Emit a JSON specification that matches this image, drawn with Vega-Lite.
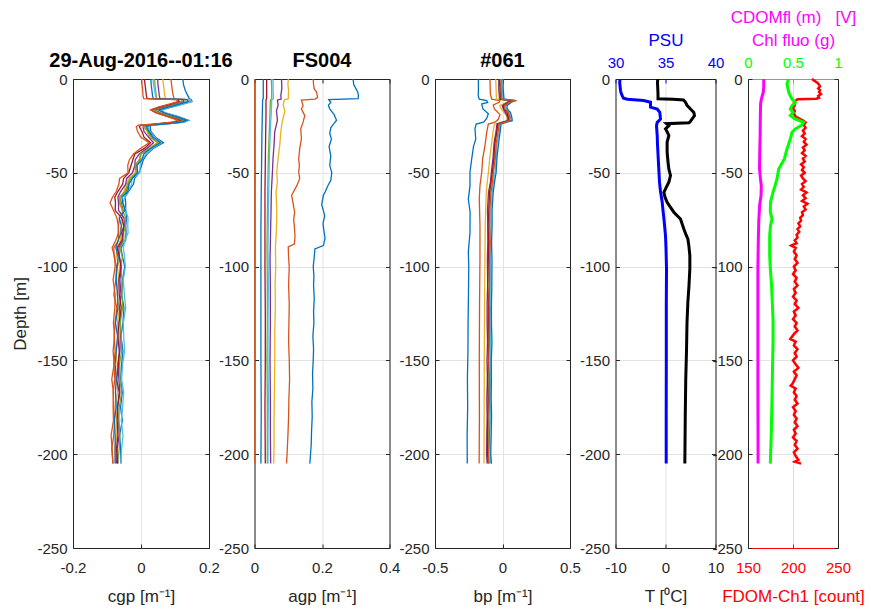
{
"$schema": "https://vega.github.io/schema/vega-lite/v6.json",
"padding": {"left": 11, "top": 8, "right": 5, "bottom": 5},
"background": "white",
"datasets": {
"cgp": [
{"s":1,"z":0,"v":0.123},{"s":1,"z":-3,"v":0.125},{"s":1,"z":-6,"v":0.13},{"s":1,"z":-9,"v":0.138},{"s":1,"z":-10.5,"v":0.142},{"s":1,"z":-11,"v":0.148},{"s":1,"z":-12,"v":0.15},{"s":1,"z":-13.5,"v":0.12},{"s":1,"z":-15,"v":0.09},{"s":1,"z":-16.5,"v":0.06},{"s":1,"z":-18,"v":0.07},{"s":1,"z":-20,"v":0.11},{"s":1,"z":-22,"v":0.14},{"s":1,"z":-23,"v":0.125},{"s":1,"z":-24,"v":0.07},{"s":1,"z":-24.6,"v":0.03},
{"s":1,"z":-25.5,"v":0.027},{"s":1,"z":-28,"v":0.029},{"s":1,"z":-31,"v":0.043},{"s":1,"z":-34,"v":0.066},{"s":1,"z":-37,"v":0.036},{"s":1,"z":-40,"v":0.018},{"s":1,"z":-43,"v":0.007},{"s":1,"z":-46,"v":0.002},{"s":1,"z":-50,"v":-0.006},{"s":1,"z":-53,"v":-0.019},{"s":1,"z":-56,"v":-0.022},{"s":1,"z":-60,"v":-0.037},{"s":1,"z":-63,"v":-0.047},{"s":1,"z":-66,"v":-0.045},{"s":1,"z":-70,"v":-0.045},
{"s":1,"z":-74,"v":-0.042},{"s":1,"z":-78,"v":-0.045},{"s":1,"z":-82,"v":-0.044},{"s":1,"z":-86,"v":-0.045},{"s":1,"z":-90,"v":-0.059},{"s":1,"z":-95,"v":-0.054},{"s":1,"z":-100,"v":-0.048},{"s":1,"z":-107,"v":-0.054},{"s":1,"z":-115,"v":-0.057},{"s":1,"z":-122,"v":-0.05},{"s":1,"z":-130,"v":-0.053},{"s":1,"z":-137,"v":-0.059},{"s":1,"z":-145,"v":-0.053},{"s":1,"z":-152,"v":-0.057},{"s":1,"z":-160,"v":-0.06},{"s":1,"z":-167,"v":-0.055},{"s":1,"z":-175,"v":-0.06},{"s":1,"z":-182,"v":-0.055},{"s":1,"z":-190,"v":-0.063},{"s":1,"z":-197,"v":-0.06},{"s":1,"z":-205,"v":-0.059},
{"s":2,"z":0,"v":0.088},{"s":2,"z":-3,"v":0.09},{"s":2,"z":-6,"v":0.092},{"s":2,"z":-9,"v":0.095},{"s":2,"z":-10.5,"v":0.098},{"s":2,"z":-11,"v":0.14},{"s":2,"z":-12,"v":0.142},{"s":2,"z":-13.5,"v":0.11},{"s":2,"z":-15,"v":0.08},{"s":2,"z":-16.5,"v":0.05},{"s":2,"z":-18,"v":0.065},{"s":2,"z":-20,"v":0.1},{"s":2,"z":-22,"v":0.137},{"s":2,"z":-23,"v":0.12},{"s":2,"z":-24,"v":0.06},{"s":2,"z":-24.6,"v":0.02},
{"s":2,"z":-25.5,"v":0.011},{"s":2,"z":-28,"v":0.021},{"s":2,"z":-31,"v":0.033},{"s":2,"z":-34,"v":0.049},{"s":2,"z":-37,"v":0.028},{"s":2,"z":-40,"v":-0.001},{"s":2,"z":-43,"v":-0.002},{"s":2,"z":-46,"v":-0.012},{"s":2,"z":-50,"v":-0.011},{"s":2,"z":-53,"v":-0.034},{"s":2,"z":-56,"v":-0.036},{"s":2,"z":-60,"v":-0.044},{"s":2,"z":-63,"v":-0.062},{"s":2,"z":-66,"v":-0.058},{"s":2,"z":-70,"v":-0.052},
{"s":2,"z":-74,"v":-0.063},{"s":2,"z":-78,"v":-0.066},{"s":2,"z":-82,"v":-0.067},{"s":2,"z":-86,"v":-0.066},{"s":2,"z":-90,"v":-0.08},{"s":2,"z":-95,"v":-0.079},{"s":2,"z":-100,"v":-0.072},{"s":2,"z":-107,"v":-0.074},{"s":2,"z":-115,"v":-0.08},{"s":2,"z":-122,"v":-0.071},{"s":2,"z":-130,"v":-0.076},{"s":2,"z":-137,"v":-0.079},{"s":2,"z":-145,"v":-0.076},{"s":2,"z":-152,"v":-0.08},{"s":2,"z":-160,"v":-0.077},{"s":2,"z":-167,"v":-0.082},{"s":2,"z":-175,"v":-0.08},{"s":2,"z":-182,"v":-0.078},{"s":2,"z":-190,"v":-0.08},{"s":2,"z":-197,"v":-0.086},{"s":2,"z":-205,"v":-0.082},
{"s":3,"z":0,"v":0.064},{"s":3,"z":-3,"v":0.066},{"s":3,"z":-6,"v":0.068},{"s":3,"z":-9,"v":0.07},{"s":3,"z":-10.5,"v":0.072},{"s":3,"z":-11,"v":0.13},{"s":3,"z":-12,"v":0.13},{"s":3,"z":-13.5,"v":0.1},{"s":3,"z":-15,"v":0.07},{"s":3,"z":-16.5,"v":0.045},{"s":3,"z":-18,"v":0.06},{"s":3,"z":-20,"v":0.095},{"s":3,"z":-22,"v":0.13},{"s":3,"z":-23,"v":0.11},{"s":3,"z":-24,"v":0.055},{"s":3,"z":-24.6,"v":0.015},
{"s":3,"z":-25.5,"v":0.01},{"s":3,"z":-28,"v":0.018},{"s":3,"z":-31,"v":0.024},{"s":3,"z":-34,"v":0.049},{"s":3,"z":-37,"v":0.019},{"s":3,"z":-40,"v":0},{"s":3,"z":-43,"v":-0.004},{"s":3,"z":-46,"v":-0.018},{"s":3,"z":-50,"v":-0.017},{"s":3,"z":-53,"v":-0.034},{"s":3,"z":-56,"v":-0.045},{"s":3,"z":-60,"v":-0.05},{"s":3,"z":-63,"v":-0.061},{"s":3,"z":-66,"v":-0.064},{"s":3,"z":-70,"v":-0.055},
{"s":3,"z":-74,"v":-0.054},{"s":3,"z":-78,"v":-0.057},{"s":3,"z":-82,"v":-0.062},{"s":3,"z":-86,"v":-0.06},{"s":3,"z":-90,"v":-0.07},{"s":3,"z":-95,"v":-0.072},{"s":3,"z":-100,"v":-0.063},{"s":3,"z":-107,"v":-0.067},{"s":3,"z":-115,"v":-0.07},{"s":3,"z":-122,"v":-0.064},{"s":3,"z":-130,"v":-0.069},{"s":3,"z":-137,"v":-0.066},{"s":3,"z":-145,"v":-0.073},{"s":3,"z":-152,"v":-0.07},{"s":3,"z":-160,"v":-0.07},{"s":3,"z":-167,"v":-0.069},{"s":3,"z":-175,"v":-0.076},{"s":3,"z":-182,"v":-0.071},{"s":3,"z":-190,"v":-0.071},{"s":3,"z":-197,"v":-0.077},{"s":3,"z":-205,"v":-0.075},
{"s":4,"z":0,"v":0.049},{"s":4,"z":-3,"v":0.05},{"s":4,"z":-6,"v":0.052},{"s":4,"z":-9,"v":0.054},{"s":4,"z":-10.5,"v":0.056},{"s":4,"z":-11,"v":0.125},{"s":4,"z":-12,"v":0.125},{"s":4,"z":-13.5,"v":0.095},{"s":4,"z":-15,"v":0.065},{"s":4,"z":-16.5,"v":0.04},{"s":4,"z":-18,"v":0.055},{"s":4,"z":-20,"v":0.09},{"s":4,"z":-22,"v":0.125},{"s":4,"z":-23,"v":0.105},{"s":4,"z":-24,"v":0.05},{"s":4,"z":-24.6,"v":0.01},
{"s":4,"z":-25.5,"v":0.006},{"s":4,"z":-28,"v":0.009},{"s":4,"z":-31,"v":0.022},{"s":4,"z":-34,"v":0.037},{"s":4,"z":-37,"v":0.017},{"s":4,"z":-40,"v":-0.005},{"s":4,"z":-43,"v":-0.017},{"s":4,"z":-46,"v":-0.018},{"s":4,"z":-50,"v":-0.025},{"s":4,"z":-53,"v":-0.042},{"s":4,"z":-56,"v":-0.045},{"s":4,"z":-60,"v":-0.06},{"s":4,"z":-63,"v":-0.068},{"s":4,"z":-66,"v":-0.066},{"s":4,"z":-70,"v":-0.066},
{"s":4,"z":-74,"v":-0.05},{"s":4,"z":-78,"v":-0.049},{"s":4,"z":-82,"v":-0.057},{"s":4,"z":-86,"v":-0.053},{"s":4,"z":-90,"v":-0.065},{"s":4,"z":-95,"v":-0.064},{"s":4,"z":-100,"v":-0.058},{"s":4,"z":-107,"v":-0.062},{"s":4,"z":-115,"v":-0.059},{"s":4,"z":-122,"v":-0.063},{"s":4,"z":-130,"v":-0.061},{"s":4,"z":-137,"v":-0.061},{"s":4,"z":-145,"v":-0.062},{"s":4,"z":-152,"v":-0.068},{"s":4,"z":-160,"v":-0.065},{"s":4,"z":-167,"v":-0.062},{"s":4,"z":-175,"v":-0.069},{"s":4,"z":-182,"v":-0.066},{"s":4,"z":-190,"v":-0.064},{"s":4,"z":-197,"v":-0.07},{"s":4,"z":-205,"v":-0.072},
{"s":5,"z":0,"v":0.04},{"s":5,"z":-3,"v":0.041},{"s":5,"z":-6,"v":0.043},{"s":5,"z":-9,"v":0.045},{"s":5,"z":-10.5,"v":0.046},{"s":5,"z":-11,"v":0.12},{"s":5,"z":-12,"v":0.12},{"s":5,"z":-13.5,"v":0.09},{"s":5,"z":-15,"v":0.06},{"s":5,"z":-16.5,"v":0.038},{"s":5,"z":-18,"v":0.052},{"s":5,"z":-20,"v":0.088},{"s":5,"z":-22,"v":0.122},{"s":5,"z":-23,"v":0.1},{"s":5,"z":-24,"v":0.048},{"s":5,"z":-24.6,"v":0.008},
{"s":5,"z":-25.5,"v":0.008},{"s":5,"z":-28,"v":0.02},{"s":5,"z":-31,"v":0.028},{"s":5,"z":-34,"v":0.05},{"s":5,"z":-37,"v":0.027},{"s":5,"z":-40,"v":-0.001},{"s":5,"z":-43,"v":-0.005},{"s":5,"z":-46,"v":-0.017},{"s":5,"z":-50,"v":-0.014},{"s":5,"z":-53,"v":-0.03},{"s":5,"z":-56,"v":-0.04},{"s":5,"z":-60,"v":-0.047},{"s":5,"z":-63,"v":-0.063},{"s":5,"z":-66,"v":-0.061},{"s":5,"z":-70,"v":-0.055},
{"s":5,"z":-74,"v":-0.045},{"s":5,"z":-78,"v":-0.046},{"s":5,"z":-82,"v":-0.051},{"s":5,"z":-86,"v":-0.05},{"s":5,"z":-90,"v":-0.062},{"s":5,"z":-95,"v":-0.055},{"s":5,"z":-100,"v":-0.059},{"s":5,"z":-107,"v":-0.056},{"s":5,"z":-115,"v":-0.056},{"s":5,"z":-122,"v":-0.054},{"s":5,"z":-130,"v":-0.061},{"s":5,"z":-137,"v":-0.058},{"s":5,"z":-145,"v":-0.057},{"s":5,"z":-152,"v":-0.063},{"s":5,"z":-160,"v":-0.062},{"s":5,"z":-167,"v":-0.057},{"s":5,"z":-175,"v":-0.064},{"s":5,"z":-182,"v":-0.065},{"s":5,"z":-190,"v":-0.062},{"s":5,"z":-197,"v":-0.064},{"s":5,"z":-205,"v":-0.069},
{"s":6,"z":0,"v":0.035},{"s":6,"z":-3,"v":0.037},{"s":6,"z":-6,"v":0.04},{"s":6,"z":-9,"v":0.043},{"s":6,"z":-10.5,"v":0.045},{"s":6,"z":-11,"v":0.145},{"s":6,"z":-12,"v":0.148},{"s":6,"z":-13.5,"v":0.118},{"s":6,"z":-15,"v":0.088},{"s":6,"z":-16.5,"v":0.058},{"s":6,"z":-18,"v":0.072},{"s":6,"z":-20,"v":0.108},{"s":6,"z":-22,"v":0.138},{"s":6,"z":-23,"v":0.128},{"s":6,"z":-24,"v":0.072},{"s":6,"z":-24.6,"v":0.03},
{"s":6,"z":-25.5,"v":0.021},{"s":6,"z":-28,"v":0.026},{"s":6,"z":-31,"v":0.041},{"s":6,"z":-34,"v":0.059},{"s":6,"z":-37,"v":0.033},{"s":6,"z":-40,"v":0.015},{"s":6,"z":-43,"v":0.002},{"s":6,"z":-46,"v":-0.003},{"s":6,"z":-50,"v":-0.003},{"s":6,"z":-53,"v":-0.027},{"s":6,"z":-56,"v":-0.027},{"s":6,"z":-60,"v":-0.039},{"s":6,"z":-63,"v":-0.048},{"s":6,"z":-66,"v":-0.053},{"s":6,"z":-70,"v":-0.045},
{"s":6,"z":-74,"v":-0.038},{"s":6,"z":-78,"v":-0.039},{"s":6,"z":-82,"v":-0.038},{"s":6,"z":-86,"v":-0.047},{"s":6,"z":-90,"v":-0.052},{"s":6,"z":-95,"v":-0.048},{"s":6,"z":-100,"v":-0.046},{"s":6,"z":-107,"v":-0.052},{"s":6,"z":-115,"v":-0.049},{"s":6,"z":-122,"v":-0.045},{"s":6,"z":-130,"v":-0.052},{"s":6,"z":-137,"v":-0.051},{"s":6,"z":-145,"v":-0.048},{"s":6,"z":-152,"v":-0.054},{"s":6,"z":-160,"v":-0.057},{"s":6,"z":-167,"v":-0.051},{"s":6,"z":-175,"v":-0.054},{"s":6,"z":-182,"v":-0.058},{"s":6,"z":-190,"v":-0.053},{"s":6,"z":-197,"v":-0.057},{"s":6,"z":-205,"v":-0.059},
{"s":7,"z":0,"v":0.01},{"s":7,"z":-3,"v":0.012},{"s":7,"z":-6,"v":0.014},{"s":7,"z":-9,"v":0.016},{"s":7,"z":-10.5,"v":0.018},{"s":7,"z":-11,"v":0.11},{"s":7,"z":-12,"v":0.112},{"s":7,"z":-13.5,"v":0.085},{"s":7,"z":-15,"v":0.055},{"s":7,"z":-16.5,"v":0.03},{"s":7,"z":-18,"v":0.045},{"s":7,"z":-20,"v":0.08},{"s":7,"z":-22,"v":0.115},{"s":7,"z":-23,"v":0.095},{"s":7,"z":-24,"v":0.04},{"s":7,"z":-24.6,"v":0},
{"s":7,"z":-25.5,"v":-0.005},{"s":7,"z":-28,"v":0.003},{"s":7,"z":-31,"v":0.009},{"s":7,"z":-34,"v":0.028},{"s":7,"z":-37,"v":0.01},{"s":7,"z":-40,"v":-0.018},{"s":7,"z":-43,"v":-0.024},{"s":7,"z":-46,"v":-0.029},{"s":7,"z":-50,"v":-0.036},{"s":7,"z":-53,"v":-0.051},{"s":7,"z":-56,"v":-0.054},{"s":7,"z":-60,"v":-0.068},{"s":7,"z":-63,"v":-0.077},{"s":7,"z":-66,"v":-0.075},{"s":7,"z":-70,"v":-0.076},
{"s":7,"z":-74,"v":-0.057},{"s":7,"z":-78,"v":-0.051},{"s":7,"z":-82,"v":-0.053},{"s":7,"z":-86,"v":-0.056},{"s":7,"z":-90,"v":-0.07},{"s":7,"z":-95,"v":-0.063},{"s":7,"z":-100,"v":-0.059},{"s":7,"z":-107,"v":-0.065},{"s":7,"z":-115,"v":-0.064},{"s":7,"z":-122,"v":-0.058},{"s":7,"z":-130,"v":-0.065},{"s":7,"z":-137,"v":-0.068},{"s":7,"z":-145,"v":-0.064},{"s":7,"z":-152,"v":-0.066},{"s":7,"z":-160,"v":-0.072},{"s":7,"z":-167,"v":-0.064},{"s":7,"z":-175,"v":-0.069},{"s":7,"z":-182,"v":-0.07},{"s":7,"z":-190,"v":-0.068},{"s":7,"z":-197,"v":-0.072},{"s":7,"z":-205,"v":-0.068},
{"s":8,"z":0,"v":0.029},{"s":8,"z":-3,"v":0.03},{"s":8,"z":-6,"v":0.032},{"s":8,"z":-9,"v":0.034},{"s":8,"z":-10.5,"v":0.036},{"s":8,"z":-11,"v":0.135},{"s":8,"z":-12,"v":0.138},{"s":8,"z":-13.5,"v":0.11},{"s":8,"z":-15,"v":0.08},{"s":8,"z":-16.5,"v":0.052},{"s":8,"z":-18,"v":0.068},{"s":8,"z":-20,"v":0.104},{"s":8,"z":-22,"v":0.134},{"s":8,"z":-23,"v":0.12},{"s":8,"z":-24,"v":0.066},{"s":8,"z":-24.6,"v":0.025},
{"s":8,"z":-25.5,"v":0.016},{"s":8,"z":-28,"v":0.024},{"s":8,"z":-31,"v":0.036},{"s":8,"z":-34,"v":0.057},{"s":8,"z":-37,"v":0.028},{"s":8,"z":-40,"v":0.008},{"s":8,"z":-43,"v":0.003},{"s":8,"z":-46,"v":-0.012},{"s":8,"z":-50,"v":-0.01},{"s":8,"z":-53,"v":-0.026},{"s":8,"z":-56,"v":-0.035},{"s":8,"z":-60,"v":-0.039},{"s":8,"z":-63,"v":-0.056},{"s":8,"z":-66,"v":-0.054},{"s":8,"z":-70,"v":-0.047},
{"s":8,"z":-74,"v":-0.064},{"s":8,"z":-78,"v":-0.058},{"s":8,"z":-82,"v":-0.059},{"s":8,"z":-86,"v":-0.067},{"s":8,"z":-90,"v":-0.074},{"s":8,"z":-95,"v":-0.067},{"s":8,"z":-100,"v":-0.07},{"s":8,"z":-107,"v":-0.073},{"s":8,"z":-115,"v":-0.069},{"s":8,"z":-122,"v":-0.068},{"s":8,"z":-130,"v":-0.075},{"s":8,"z":-137,"v":-0.069},{"s":8,"z":-145,"v":-0.073},{"s":8,"z":-152,"v":-0.076},{"s":8,"z":-160,"v":-0.073},{"s":8,"z":-167,"v":-0.075},{"s":8,"z":-175,"v":-0.073},{"s":8,"z":-182,"v":-0.078},{"s":8,"z":-190,"v":-0.076},{"s":8,"z":-197,"v":-0.076},{"s":8,"z":-205,"v":-0.076},
{"s":9,"z":0,"v":0.002},{"s":9,"z":-3,"v":0.003},{"s":9,"z":-6,"v":0.005},{"s":9,"z":-9,"v":0.006},{"s":9,"z":-10.5,"v":0.008},{"s":9,"z":-11,"v":0.105},{"s":9,"z":-12,"v":0.108},{"s":9,"z":-13.5,"v":0.08},{"s":9,"z":-15,"v":0.05},{"s":9,"z":-16.5,"v":0.028},{"s":9,"z":-18,"v":0.042},{"s":9,"z":-20,"v":0.078},{"s":9,"z":-22,"v":0.11},{"s":9,"z":-23,"v":0.09},{"s":9,"z":-24,"v":0.035},{"s":9,"z":-24.6,"v":-0.008},
{"s":9,"z":-25.5,"v":-0.014},{"s":9,"z":-28,"v":-0.01},{"s":9,"z":-31,"v":-0.001},{"s":9,"z":-34,"v":0.024},{"s":9,"z":-37,"v":-0.002},{"s":9,"z":-40,"v":-0.022},{"s":9,"z":-43,"v":-0.034},{"s":9,"z":-46,"v":-0.039},{"s":9,"z":-50,"v":-0.038},{"s":9,"z":-53,"v":-0.063},{"s":9,"z":-56,"v":-0.065},{"s":9,"z":-60,"v":-0.073},{"s":9,"z":-63,"v":-0.084},{"s":9,"z":-66,"v":-0.091},{"s":9,"z":-70,"v":-0.081},
{"s":9,"z":-74,"v":-0.071},{"s":9,"z":-78,"v":-0.067},{"s":9,"z":-82,"v":-0.066},{"s":9,"z":-86,"v":-0.074},{"s":9,"z":-90,"v":-0.085},{"s":9,"z":-95,"v":-0.077},{"s":9,"z":-100,"v":-0.076},{"s":9,"z":-107,"v":-0.082},{"s":9,"z":-115,"v":-0.076},{"s":9,"z":-122,"v":-0.077},{"s":9,"z":-130,"v":-0.081},{"s":9,"z":-137,"v":-0.078},{"s":9,"z":-145,"v":-0.082},{"s":9,"z":-152,"v":-0.079},{"s":9,"z":-160,"v":-0.086},{"s":9,"z":-167,"v":-0.081},{"s":9,"z":-175,"v":-0.082},{"s":9,"z":-182,"v":-0.081},{"s":9,"z":-190,"v":-0.088},{"s":9,"z":-197,"v":-0.085},{"s":9,"z":-205,"v":-0.083}
],
"agp": [
{"s":1,"z":0,"v":0.292},{"s":1,"z":-3,"v":0.294},{"s":1,"z":-5,"v":0.3},{"s":1,"z":-7,"v":0.306},{"s":1,"z":-9,"v":0.308},{"s":1,"z":-10.5,"v":0.307},{"s":1,"z":-11,"v":0.22},{"s":1,"z":-12.4,"v":0.226},{"s":1,"z":-14,"v":0.219},{"s":1,"z":-16,"v":0.223},{"s":1,"z":-19,"v":0.236},{"s":1,"z":-22,"v":0.243},{"s":1,"z":-24,"v":0.234},{"s":1,"z":-26,"v":0.226},{"s":1,"z":-29,"v":0.223},{"s":1,"z":-32,"v":0.228},{"s":1,"z":-36,"v":0.221},{"s":1,"z":-41,"v":0.226},{"s":1,"z":-46,"v":0.223},{"s":1,"z":-50,"v":0.229},{"s":1,"z":-54,"v":0.226},{"s":1,"z":-57,"v":0.217},{"s":1,"z":-60,"v":0.21},{"s":1,"z":-62,"v":0.204},{"s":1,"z":-67,"v":0.199},{"s":1,"z":-70,"v":0.204},{"s":1,"z":-73,"v":0.208},{"s":1,"z":-77,"v":0.203},{"s":1,"z":-80,"v":0.205},{"s":1,"z":-85,"v":0.209},{"s":1,"z":-88.8,"v":0.204},{"s":1,"z":-90.6,"v":0.179},{"s":1,"z":-95,"v":0.177},{"s":1,"z":-100,"v":0.174},{"s":1,"z":-105,"v":0.176},{"s":1,"z":-110,"v":0.175},{"s":1,"z":-117,"v":0.177},{"s":1,"z":-124,"v":0.175},{"s":1,"z":-130,"v":0.176},{"s":1,"z":-137,"v":0.173},{"s":1,"z":-144,"v":0.175},{"s":1,"z":-150,"v":0.174},{"s":1,"z":-157,"v":0.172},{"s":1,"z":-165,"v":0.173},{"s":1,"z":-172,"v":0.17},{"s":1,"z":-180,"v":0.171},{"s":1,"z":-188,"v":0.169},{"s":1,"z":-195,"v":0.168},{"s":1,"z":-200,"v":0.166},{"s":1,"z":-205,"v":0.164},
{"s":2,"z":0,"v":0.174},{"s":2,"z":-3,"v":0.175},{"s":2,"z":-5.3,"v":0.177},{"s":2,"z":-7,"v":0.184},{"s":2,"z":-9.8,"v":0.187},{"s":2,"z":-10.7,"v":0.18},{"s":2,"z":-11.2,"v":0.139},{"s":2,"z":-14.2,"v":0.144},{"s":2,"z":-16,"v":0.139},{"s":2,"z":-19.5,"v":0.149},{"s":2,"z":-23,"v":0.144},{"s":2,"z":-26.6,"v":0.137},{"s":2,"z":-32,"v":0.139},{"s":2,"z":-37,"v":0.134},{"s":2,"z":-42.6,"v":0.131},{"s":2,"z":-46,"v":0.133},{"s":2,"z":-49.7,"v":0.131},{"s":2,"z":-53,"v":0.134},{"s":2,"z":-57,"v":0.125},{"s":2,"z":-62,"v":0.11},{"s":2,"z":-67,"v":0.115},{"s":2,"z":-71,"v":0.119},{"s":2,"z":-75,"v":0.116},{"s":2,"z":-78,"v":0.118},{"s":2,"z":-84,"v":0.12},{"s":2,"z":-88,"v":0.118},{"s":2,"z":-89.5,"v":0.1},{"s":2,"z":-95,"v":0.101},{"s":2,"z":-100,"v":0.103},{"s":2,"z":-110,"v":0.101},{"s":2,"z":-120,"v":0.103},{"s":2,"z":-130,"v":0.102},{"s":2,"z":-140,"v":0.101},{"s":2,"z":-150,"v":0.103},{"s":2,"z":-160,"v":0.104},{"s":2,"z":-170,"v":0.102},{"s":2,"z":-180,"v":0.101},{"s":2,"z":-190,"v":0.099},{"s":2,"z":-198,"v":0.097},{"s":2,"z":-205,"v":0.095},
{"s":3,"z":0,"v":0.1},{"s":3,"z":-3,"v":0.099},{"s":3,"z":-6,"v":0.101},{"s":3,"z":-10.5,"v":0.1},{"s":3,"z":-11.2,"v":0.088},{"s":3,"z":-14,"v":0.085},{"s":3,"z":-17,"v":0.09},{"s":3,"z":-20,"v":0.086},{"s":3,"z":-23,"v":0.082},{"s":3,"z":-28,"v":0.078},{"s":3,"z":-35,"v":0.075},{"s":3,"z":-42,"v":0.07},{"s":3,"z":-50,"v":0.066},{"s":3,"z":-55,"v":0.068},{"s":3,"z":-60,"v":0.064},{"s":3,"z":-70,"v":0.066},{"s":3,"z":-80,"v":0.065},{"s":3,"z":-90,"v":0.062},{"s":3,"z":-100,"v":0.063},{"s":3,"z":-110,"v":0.061},{"s":3,"z":-120,"v":0.062},{"s":3,"z":-135,"v":0.06},{"s":3,"z":-150,"v":0.06},{"s":3,"z":-165,"v":0.059},{"s":3,"z":-180,"v":0.058},{"s":3,"z":-195,"v":0.058},{"s":3,"z":-205,"v":0.057},
{"s":4,"z":0,"v":0.08},{"s":4,"z":-5,"v":0.081},{"s":4,"z":-9,"v":0.078},{"s":4,"z":-10.7,"v":0.079},{"s":4,"z":-11.2,"v":0.068},{"s":4,"z":-14,"v":0.07},{"s":4,"z":-17,"v":0.065},{"s":4,"z":-22,"v":0.068},{"s":4,"z":-28,"v":0.06},{"s":4,"z":-35,"v":0.058},{"s":4,"z":-42,"v":0.055},{"s":4,"z":-50,"v":0.053},{"s":4,"z":-60,"v":0.05},{"s":4,"z":-70,"v":0.049},{"s":4,"z":-78,"v":0.048},{"s":4,"z":-88,"v":0.047},{"s":4,"z":-96,"v":0.046},{"s":4,"z":-110,"v":0.047},{"s":4,"z":-130,"v":0.047},{"s":4,"z":-150,"v":0.046},{"s":4,"z":-170,"v":0.047},{"s":4,"z":-190,"v":0.047},{"s":4,"z":-205,"v":0.048},
{"s":5,"z":0,"v":0.05},{"s":5,"z":-5,"v":0.051},{"s":5,"z":-10.5,"v":0.051},{"s":5,"z":-11.2,"v":0.047},{"s":5,"z":-17,"v":0.046},{"s":5,"z":-23,"v":0.045},{"s":5,"z":-32,"v":0.043},{"s":5,"z":-42,"v":0.041},{"s":5,"z":-52,"v":0.04},{"s":5,"z":-62,"v":0.039},{"s":5,"z":-75,"v":0.038},{"s":5,"z":-90,"v":0.037},{"s":5,"z":-110,"v":0.038},{"s":5,"z":-130,"v":0.038},{"s":5,"z":-150,"v":0.037},{"s":5,"z":-170,"v":0.038},{"s":5,"z":-190,"v":0.038},{"s":5,"z":-205,"v":0.038},
{"s":6,"z":0,"v":0.055},{"s":6,"z":-5,"v":0.055},{"s":6,"z":-10.5,"v":0.056},{"s":6,"z":-11.2,"v":0.051},{"s":6,"z":-17,"v":0.05},{"s":6,"z":-23,"v":0.048},{"s":6,"z":-32,"v":0.046},{"s":6,"z":-42,"v":0.044},{"s":6,"z":-52,"v":0.043},{"s":6,"z":-62,"v":0.042},{"s":6,"z":-75,"v":0.041},{"s":6,"z":-90,"v":0.04},{"s":6,"z":-110,"v":0.041},{"s":6,"z":-130,"v":0.04},{"s":6,"z":-150,"v":0.04},{"s":6,"z":-170,"v":0.041},{"s":6,"z":-190,"v":0.04},{"s":6,"z":-205,"v":0.04},
{"s":7,"z":0,"v":0.036},{"s":7,"z":-10.5,"v":0.036},{"s":7,"z":-11.2,"v":0.034},{"s":7,"z":-20,"v":0.034},{"s":7,"z":-30,"v":0.033},{"s":7,"z":-45,"v":0.032},{"s":7,"z":-60,"v":0.031},{"s":7,"z":-80,"v":0.031},{"s":7,"z":-100,"v":0.031},{"s":7,"z":-125,"v":0.032},{"s":7,"z":-150,"v":0.032},{"s":7,"z":-175,"v":0.031},{"s":7,"z":-205,"v":0.032},
{"s":8,"z":0,"v":0.026},{"s":8,"z":-10.5,"v":0.026},{"s":8,"z":-11.2,"v":0.024},{"s":8,"z":-20,"v":0.023},{"s":8,"z":-30,"v":0.022},{"s":8,"z":-45,"v":0.021},{"s":8,"z":-60,"v":0.02},{"s":8,"z":-80,"v":0.019},{"s":8,"z":-100,"v":0.019},{"s":8,"z":-125,"v":0.019},{"s":8,"z":-150,"v":0.019},{"s":8,"z":-175,"v":0.02},{"s":8,"z":-205,"v":0.019},
{"s":9,"z":0,"v":0.001},{"s":9,"z":-50,"v":0.001},{"s":9,"z":-100,"v":0.001},{"s":9,"z":-150,"v":0.001},{"s":9,"z":-205,"v":0.001}
],
"bp": [
{"s":1,"z":0,"v":-0.179},{"s":1,"z":-5,"v":-0.178},{"s":1,"z":-9,"v":-0.18},{"s":1,"z":-10.7,"v":-0.172},{"s":1,"z":-11.5,"v":-0.117},{"s":1,"z":-12.5,"v":-0.11},{"s":1,"z":-13.3,"v":-0.154},{"s":1,"z":-16,"v":-0.145},{"s":1,"z":-18.5,"v":-0.105},{"s":1,"z":-21,"v":-0.117},{"s":1,"z":-23,"v":-0.14},{"s":1,"z":-24,"v":-0.195},{"s":1,"z":-26.5,"v":-0.204},{"s":1,"z":-32,"v":-0.198},{"s":1,"z":-36,"v":-0.215},{"s":1,"z":-42.6,"v":-0.228},{"s":1,"z":-49.7,"v":-0.241},{"s":1,"z":-57,"v":-0.241},{"s":1,"z":-64,"v":-0.253},{"s":1,"z":-71,"v":-0.24},{"s":1,"z":-82,"v":-0.241},{"s":1,"z":-92,"v":-0.253},{"s":1,"z":-100,"v":-0.25},{"s":1,"z":-115,"v":-0.252},{"s":1,"z":-130,"v":-0.255},{"s":1,"z":-145,"v":-0.256},{"s":1,"z":-160,"v":-0.26},{"s":1,"z":-175,"v":-0.258},{"s":1,"z":-190,"v":-0.262},{"s":1,"z":-205,"v":-0.261},
{"s":2,"z":0,"v":-0.093},{"s":2,"z":-8,"v":-0.09},{"s":2,"z":-10.7,"v":-0.08},{"s":2,"z":-11.5,"v":-0.019},{"s":2,"z":-12.4,"v":-0.024},{"s":2,"z":-13.8,"v":-0.068},{"s":2,"z":-16,"v":-0.06},{"s":2,"z":-19,"v":-0.019},{"s":2,"z":-21.5,"v":-0.031},{"s":2,"z":-23,"v":-0.056},{"s":2,"z":-24,"v":-0.105},{"s":2,"z":-28.5,"v":-0.117},{"s":2,"z":-35.5,"v":-0.13},{"s":2,"z":-42.6,"v":-0.147},{"s":2,"z":-49.7,"v":-0.154},{"s":2,"z":-57,"v":-0.167},{"s":2,"z":-64,"v":-0.172},{"s":2,"z":-78,"v":-0.167},{"s":2,"z":-96,"v":-0.167},{"s":2,"z":-120,"v":-0.17},{"s":2,"z":-150,"v":-0.172},{"s":2,"z":-180,"v":-0.171},{"s":2,"z":-205,"v":-0.173},
{"s":3,"z":0,"v":-0.05},{"s":3,"z":-10.7,"v":-0.045},{"s":3,"z":-11.5,"v":0.06},{"s":3,"z":-12.4,"v":0.03},{"s":3,"z":-14,"v":-0.02},{"s":3,"z":-16,"v":-0.01},{"s":3,"z":-19.5,"v":0.03},{"s":3,"z":-21.5,"v":0.035},{"s":3,"z":-23,"v":0.02},{"s":3,"z":-24,"v":-0.06},{"s":3,"z":-28,"v":-0.07},{"s":3,"z":-34,"v":-0.08},{"s":3,"z":-42.6,"v":-0.095},{"s":3,"z":-50,"v":-0.105},{"s":3,"z":-60,"v":-0.12},{"s":3,"z":-78,"v":-0.128},{"s":3,"z":-96,"v":-0.13},{"s":3,"z":-120,"v":-0.133},{"s":3,"z":-150,"v":-0.135},{"s":3,"z":-180,"v":-0.136},{"s":3,"z":-205,"v":-0.137},
{"s":4,"z":0,"v":-0.027},{"s":4,"z":-5,"v":-0.028},{"s":4,"z":-10.7,"v":-0.022},{"s":4,"z":-11.5,"v":0.064},{"s":4,"z":-12.4,"v":0.037},{"s":4,"z":-14.2,"v":-0.002},{"s":4,"z":-16,"v":0.006},{"s":4,"z":-17.8,"v":0.021},{"s":4,"z":-20.5,"v":0.04},{"s":4,"z":-22.2,"v":0.041},{"s":4,"z":-23,"v":-0.003},{"s":4,"z":-24,"v":-0.041},{"s":4,"z":-28,"v":-0.048},{"s":4,"z":-33.8,"v":-0.062},{"s":4,"z":-42,"v":-0.07},{"s":4,"z":-49.7,"v":-0.083},{"s":4,"z":-55,"v":-0.089},{"s":4,"z":-60.4,"v":-0.104},{"s":4,"z":-70,"v":-0.111},{"s":4,"z":-78,"v":-0.109},{"s":4,"z":-87,"v":-0.109},{"s":4,"z":-96,"v":-0.112},{"s":4,"z":-110,"v":-0.11},{"s":4,"z":-120,"v":-0.114},{"s":4,"z":-130,"v":-0.114},{"s":4,"z":-140,"v":-0.111},{"s":4,"z":-150,"v":-0.115},{"s":4,"z":-160,"v":-0.112},{"s":4,"z":-170,"v":-0.116},{"s":4,"z":-180,"v":-0.114},{"s":4,"z":-190,"v":-0.116},{"s":4,"z":-200,"v":-0.118},{"s":4,"z":-205,"v":-0.114},
{"s":5,"z":0,"v":-0.019},{"s":5,"z":-5,"v":-0.014},{"s":5,"z":-10.7,"v":-0.017},{"s":5,"z":-11.5,"v":0.075},{"s":5,"z":-12.4,"v":0.046},{"s":5,"z":-14.2,"v":0.007},{"s":5,"z":-16,"v":0.014},{"s":5,"z":-17.8,"v":0.037},{"s":5,"z":-20.5,"v":0.048},{"s":5,"z":-22.2,"v":0.05},{"s":5,"z":-23,"v":0.007},{"s":5,"z":-24,"v":-0.029},{"s":5,"z":-28,"v":-0.041},{"s":5,"z":-33.8,"v":-0.054},{"s":5,"z":-42,"v":-0.059},{"s":5,"z":-49.7,"v":-0.07},{"s":5,"z":-55,"v":-0.082},{"s":5,"z":-60.4,"v":-0.091},{"s":5,"z":-70,"v":-0.1},{"s":5,"z":-78,"v":-0.101},{"s":5,"z":-87,"v":-0.098},{"s":5,"z":-96,"v":-0.102},{"s":5,"z":-110,"v":-0.1},{"s":5,"z":-120,"v":-0.104},{"s":5,"z":-130,"v":-0.103},{"s":5,"z":-140,"v":-0.103},{"s":5,"z":-150,"v":-0.106},{"s":5,"z":-160,"v":-0.103},{"s":5,"z":-170,"v":-0.103},{"s":5,"z":-180,"v":-0.107},{"s":5,"z":-190,"v":-0.104},{"s":5,"z":-200,"v":-0.106},{"s":5,"z":-205,"v":-0.103},
{"s":6,"z":0,"v":-0.006},{"s":6,"z":-5,"v":-0.002},{"s":6,"z":-10.7,"v":0.003},{"s":6,"z":-11.5,"v":0.087},{"s":6,"z":-12.4,"v":0.059},{"s":6,"z":-14.2,"v":0.021},{"s":6,"z":-16,"v":0.03},{"s":6,"z":-17.8,"v":0.048},{"s":6,"z":-20.5,"v":0.06},{"s":6,"z":-22.2,"v":0.065},{"s":6,"z":-23,"v":0.024},{"s":6,"z":-24,"v":-0.018},{"s":6,"z":-28,"v":-0.024},{"s":6,"z":-33.8,"v":-0.039},{"s":6,"z":-42,"v":-0.047},{"s":6,"z":-49.7,"v":-0.055},{"s":6,"z":-55,"v":-0.068},{"s":6,"z":-60.4,"v":-0.077},{"s":6,"z":-70,"v":-0.086},{"s":6,"z":-78,"v":-0.086},{"s":6,"z":-87,"v":-0.086},{"s":6,"z":-96,"v":-0.089},{"s":6,"z":-110,"v":-0.087},{"s":6,"z":-120,"v":-0.087},{"s":6,"z":-130,"v":-0.092},{"s":6,"z":-140,"v":-0.087},{"s":6,"z":-150,"v":-0.09},{"s":6,"z":-160,"v":-0.088},{"s":6,"z":-170,"v":-0.091},{"s":6,"z":-180,"v":-0.089},{"s":6,"z":-190,"v":-0.095},{"s":6,"z":-200,"v":-0.091},{"s":6,"z":-205,"v":-0.09},
{"s":7,"z":0,"v":-0.024},{"s":7,"z":-5,"v":-0.018},{"s":7,"z":-10.7,"v":-0.018},{"s":7,"z":-11.5,"v":0.067},{"s":7,"z":-12.4,"v":0.042},{"s":7,"z":-14.2,"v":0.006},{"s":7,"z":-16,"v":0.009},{"s":7,"z":-17.8,"v":0.033},{"s":7,"z":-20.5,"v":0.043},{"s":7,"z":-22.2,"v":0.045},{"s":7,"z":-23,"v":0.007},{"s":7,"z":-24,"v":-0.036},{"s":7,"z":-28,"v":-0.042},{"s":7,"z":-33.8,"v":-0.057},{"s":7,"z":-42,"v":-0.064},{"s":7,"z":-49.7,"v":-0.075},{"s":7,"z":-55,"v":-0.087},{"s":7,"z":-60.4,"v":-0.096},{"s":7,"z":-70,"v":-0.101},{"s":7,"z":-78,"v":-0.107},{"s":7,"z":-87,"v":-0.102},{"s":7,"z":-96,"v":-0.105},{"s":7,"z":-110,"v":-0.11},{"s":7,"z":-120,"v":-0.105},{"s":7,"z":-130,"v":-0.106},{"s":7,"z":-140,"v":-0.108},{"s":7,"z":-150,"v":-0.105},{"s":7,"z":-160,"v":-0.111},{"s":7,"z":-170,"v":-0.107},{"s":7,"z":-180,"v":-0.109},{"s":7,"z":-190,"v":-0.112},{"s":7,"z":-200,"v":-0.11},{"s":7,"z":-205,"v":-0.107},
{"s":8,"z":0,"v":0.005},{"s":8,"z":-5,"v":0.005},{"s":8,"z":-10.7,"v":0.011},{"s":8,"z":-11.5,"v":0.094},{"s":8,"z":-12.4,"v":0.066},{"s":8,"z":-14.2,"v":0.033},{"s":8,"z":-16,"v":0.035},{"s":8,"z":-17.8,"v":0.059},{"s":8,"z":-20.5,"v":0.069},{"s":8,"z":-22.2,"v":0.072},{"s":8,"z":-23,"v":0.031},{"s":8,"z":-24,"v":-0.011},{"s":8,"z":-28,"v":-0.017},{"s":8,"z":-33.8,"v":-0.028},{"s":8,"z":-42,"v":-0.041},{"s":8,"z":-49.7,"v":-0.047},{"s":8,"z":-55,"v":-0.059},{"s":8,"z":-60.4,"v":-0.069},{"s":8,"z":-70,"v":-0.077},{"s":8,"z":-78,"v":-0.077},{"s":8,"z":-87,"v":-0.081},{"s":8,"z":-96,"v":-0.078},{"s":8,"z":-110,"v":-0.079},{"s":8,"z":-120,"v":-0.082},{"s":8,"z":-130,"v":-0.082},{"s":8,"z":-140,"v":-0.078},{"s":8,"z":-150,"v":-0.083},{"s":8,"z":-160,"v":-0.082},{"s":8,"z":-170,"v":-0.084},{"s":8,"z":-180,"v":-0.081},{"s":8,"z":-190,"v":-0.084},{"s":8,"z":-200,"v":-0.087},{"s":8,"z":-205,"v":-0.082},
{"s":9,"z":0,"v":-0.01},{"s":9,"z":-5,"v":-0.011},{"s":9,"z":-10.7,"v":-0.005},{"s":9,"z":-11.5,"v":0.103},{"s":9,"z":-12.4,"v":0.051},{"s":9,"z":-14.2,"v":0.015},{"s":9,"z":-16,"v":0.018},{"s":9,"z":-17.8,"v":0.042},{"s":9,"z":-20.5,"v":0.056},{"s":9,"z":-22.2,"v":0.053},{"s":9,"z":-23,"v":0.017},{"s":9,"z":-24,"v":-0.025},{"s":9,"z":-28,"v":-0.032},{"s":9,"z":-33.8,"v":-0.046},{"s":9,"z":-42,"v":-0.053},{"s":9,"z":-49.7,"v":-0.068},{"s":9,"z":-55,"v":-0.074},{"s":9,"z":-60.4,"v":-0.086},{"s":9,"z":-70,"v":-0.094},{"s":9,"z":-78,"v":-0.095},{"s":9,"z":-87,"v":-0.091},{"s":9,"z":-96,"v":-0.096},{"s":9,"z":-110,"v":-0.096},{"s":9,"z":-120,"v":-0.098},{"s":9,"z":-130,"v":-0.096},{"s":9,"z":-140,"v":-0.097},{"s":9,"z":-150,"v":-0.101},{"s":9,"z":-160,"v":-0.097},{"s":9,"z":-170,"v":-0.097},{"s":9,"z":-180,"v":-0.1},{"s":9,"z":-190,"v":-0.097},{"s":9,"z":-200,"v":-0.102},{"s":9,"z":-205,"v":-0.1}
],
"sal": [
{"z":0,"S":30.45},{"z":-2,"S":30.42},{"z":-4,"S":30.46},{"z":-6,"S":30.5},{"z":-7.5,"S":30.56},{"z":-8.9,"S":30.67},{"z":-10.2,"S":30.8},{"z":-10.8,"S":31.2},{"z":-11.5,"S":32.8},{"z":-12.4,"S":33.5},{"z":-15,"S":33.5},{"z":-16,"S":34.17},{"z":-17.8,"S":34.43},{"z":-21.3,"S":34.5},{"z":-22.5,"S":34.3},{"z":-23.1,"S":34.17},{"z":-25,"S":34.1},{"z":-30,"S":34.17},{"z":-35,"S":34.2},{"z":-40,"S":34.25},{"z":-48,"S":34.33},{"z":-55,"S":34.4},{"z":-60,"S":34.5},{"z":-65.7,"S":34.67},{"z":-70,"S":34.75},{"z":-75,"S":34.85},{"z":-83.5,"S":35.0},{"z":-90,"S":35.05},{"z":-101,"S":35.1},{"z":-120,"S":35.08},{"z":-150,"S":35.08},{"z":-180,"S":35.07},{"z":-205,"S":35.07}
],
"temp": [
{"z":0,"T":-1.55},{"z":-2,"T":-1.6},{"z":-5,"T":-1.55},{"z":-8,"T":-1.5},{"z":-10.5,"T":-1.5},{"z":-10.8,"T":1.5},{"z":-11.2,"T":3.6},{"z":-12.4,"T":4.0},{"z":-14,"T":4.3},{"z":-16,"T":5.0},{"z":-17.8,"T":5.67},{"z":-19.5,"T":5.8},{"z":-21.3,"T":5.33},{"z":-22.5,"T":5.0},{"z":-23.3,"T":4.7},{"z":-23.8,"T":0.2},{"z":-24.9,"T":0.67},{"z":-26.6,"T":0.0},{"z":-28.5,"T":0.4},{"z":-30.2,"T":0.67},{"z":-33.7,"T":0.33},{"z":-39,"T":0.33},{"z":-44,"T":0.5},{"z":-48,"T":0.67},{"z":-51.5,"T":1.0},{"z":-55,"T":0.67},{"z":-58,"T":0.1},{"z":-60.4,"T":-0.33},{"z":-63,"T":-0.1},{"z":-65.7,"T":0.33},{"z":-68,"T":0.9},{"z":-71,"T":1.67},{"z":-74.6,"T":3.0},{"z":-77,"T":3.3},{"z":-80,"T":3.67},{"z":-83,"T":4.1},{"z":-85.3,"T":4.47},{"z":-88.8,"T":4.67},{"z":-94.1,"T":4.87},{"z":-101,"T":4.87},{"z":-110,"T":4.7},{"z":-119,"T":4.47},{"z":-130,"T":4.3},{"z":-145,"T":4.2},{"z":-160,"T":4.05},{"z":-180,"T":3.95},{"z":-205,"T":3.87}
],
"cdom": [
{"z":0,"c":0.175},{"z":-4,"c":0.175},{"z":-7,"c":0.17},{"z":-9,"c":0.158},{"z":-11,"c":0.148},{"z":-13,"c":0.14},{"z":-20,"c":0.137},{"z":-30,"c":0.135},{"z":-40,"c":0.13},{"z":-48,"c":0.128},{"z":-53,"c":0.138},{"z":-57,"c":0.148},{"z":-62,"c":0.145},{"z":-67,"c":0.13},{"z":-75,"c":0.12},{"z":-85,"c":0.115},{"z":-100,"c":0.11},{"z":-130,"c":0.11},{"z":-160,"c":0.11},{"z":-205,"c":0.112}
],
"chl": [
{"z":0,"g":0.452},{"z":-2.7,"g":0.433},{"z":-5.3,"g":0.444},{"z":-8,"g":0.459},{"z":-10.7,"g":0.489},{"z":-12.4,"g":0.526},{"z":-14.2,"g":0.489},{"z":-16,"g":0.47},{"z":-17.8,"g":0.5},{"z":-19.5,"g":0.47},{"z":-21.3,"g":0.522},{"z":-23.1,"g":0.619},{"z":-24.5,"g":0.6},{"z":-26.6,"g":0.526},{"z":-28.4,"g":0.489},{"z":-32,"g":0.47},{"z":-37.3,"g":0.433},{"z":-42.6,"g":0.404},{"z":-48,"g":0.341},{"z":-53.3,"g":0.322},{"z":-57,"g":0.3},{"z":-60,"g":0.28},{"z":-65.7,"g":0.25},{"z":-71,"g":0.248},{"z":-74.6,"g":0.267},{"z":-78.2,"g":0.25},{"z":-83.5,"g":0.241},{"z":-94,"g":0.241},{"z":-101,"g":0.248},{"z":-110,"g":0.262},{"z":-119,"g":0.27},{"z":-128,"g":0.278},{"z":-140,"g":0.278},{"z":-155,"g":0.272},{"z":-170,"g":0.267},{"z":-190,"g":0.258},{"z":-205,"g":0.248}
],
"fdom": [
{"z":0,"f":221},{"z":-1,"f":224},{"z":-2,"f":227},{"z":-3,"f":229},{"z":-4,"f":230},{"z":-5,"f":228},{"z":-6,"f":230},{"z":-7,"f":229},{"z":-8,"f":231},{"z":-9,"f":228},{"z":-10,"f":229},{"z":-10.5,"f":226},{"z":-10.8,"f":205},{"z":-11.5,"f":203},{"z":-12.5,"f":201},{"z":-14,"f":202},{"z":-15.5,"f":200},{"z":-17,"f":202},{"z":-18.5,"f":201},{"z":-20,"f":203},{"z":-21.3,"f":208},{"z":-22.2,"f":211},{"z":-23.1,"f":214},{"z":-24.5,"f":212},{"z":-26,"f":214},{"z":-27.5,"f":211},{"z":-29,"f":213},{"z":-30.5,"f":210},{"z":-32,"f":214},{"z":-33.5,"f":212},{"z":-35,"f":215},{"z":-36.5,"f":211},{"z":-38,"f":213},{"z":-39.5,"f":210},{"z":-41,"f":214},{"z":-42.5,"f":211},{"z":-44,"f":213},{"z":-45.5,"f":209},{"z":-47,"f":212},{"z":-48.5,"f":210},{"z":-50,"f":213},{"z":-51.5,"f":209},{"z":-53,"f":211},{"z":-54.5,"f":214},{"z":-56,"f":210},{"z":-57.5,"f":212},{"z":-59,"f":209},{"z":-60.5,"f":215},{"z":-62,"f":211},{"z":-63.5,"f":214},{"z":-65,"f":210},{"z":-66.5,"f":216},{"z":-68,"f":212},{"z":-69.5,"f":214},{"z":-71,"f":210},{"z":-72.5,"f":211},{"z":-74,"f":208},{"z":-75.5,"f":209},{"z":-77,"f":206},{"z":-78.5,"f":208},{"z":-80,"f":205},{"z":-81.5,"f":207},{"z":-83,"f":204},{"z":-84.5,"f":205},{"z":-86,"f":202},{"z":-87.5,"f":204},{"z":-88.8,"f":198},{"z":-90,"f":203},{"z":-92,"f":201},{"z":-94,"f":204},{"z":-96,"f":202},{"z":-98,"f":205},{"z":-100,"f":201},{"z":-102,"f":203},{"z":-104,"f":200},{"z":-106,"f":204},{"z":-108,"f":202},{"z":-110,"f":205},{"z":-112,"f":201},{"z":-114,"f":203},{"z":-116,"f":200},{"z":-118,"f":204},{"z":-120,"f":202},{"z":-122,"f":206},{"z":-124,"f":201},{"z":-126,"f":203},{"z":-128,"f":200},{"z":-130,"f":204},{"z":-132,"f":202},{"z":-134,"f":205},{"z":-136,"f":201},{"z":-138.6,"f":197},{"z":-140,"f":203},{"z":-142,"f":201},{"z":-144,"f":205},{"z":-146,"f":202},{"z":-148,"f":204},{"z":-150,"f":200},{"z":-152,"f":203},{"z":-154,"f":206},{"z":-156,"f":201},{"z":-158,"f":204},{"z":-160,"f":202},{"z":-162,"f":200},{"z":-163.5,"f":197.5},{"z":-165,"f":203},{"z":-167,"f":201},{"z":-169,"f":204},{"z":-171,"f":202},{"z":-173,"f":205},{"z":-175,"f":200},{"z":-177,"f":203},{"z":-179,"f":201},{"z":-181,"f":204},{"z":-183,"f":202},{"z":-185,"f":205},{"z":-187,"f":201},{"z":-189,"f":203},{"z":-191,"f":200},{"z":-193,"f":204},{"z":-195,"f":202},{"z":-197,"f":205},{"z":-199,"f":201},{"z":-201,"f":203},{"z":-203,"f":206},{"z":-204,"f":202},{"z":-205,"f":209}
]
},
"hconcat": [
{
"bounds": "flush",
"spacing": 45.5,
"hconcat": [
{
"width": 136, "height": 469,
"title": "29-Aug-2016--01:16",
"layer": [
{"data": {"name": "cgp"}, "mark": {"type": "line", "strokeWidth": 1.3},
 "encoding": {
  "x": {"field": "v", "type": "quantitative", "scale": {"domain": [-0.2, 0.2], "nice": false, "zero": false}, "axis": {"orient": "bottom", "values": [-0.2, 0, 0.2], "title": "cgp [m\u207b\u00b9]", "grid": true}},
  "y": {"field": "z", "type": "quantitative", "scale": {"domain": [-250, 0], "nice": false, "zero": false}, "axis": {"orient": "left", "values": [0, -50, -100, -150, -200, -250], "title": "Depth [m]", "grid": true}},
  "color": {"field": "s", "type": "nominal", "scale": {"domain": [1, 2, 3, 4, 5, 6, 7, 8, 9], "range": ["#0072BD", "#D95319", "#EDB120", "#7E2F8E", "#77AC30", "#4DBEEE", "#A2142F", "#0072BD", "#D95319"]}, "legend": null},
  "order": {"field": "z", "sort": "descending"}
 }},
{"data": {"values": [{"k": 0}]}, "mark": {"type": "point", "opacity": 0},
 "encoding": {
  "x": {"datum": 0, "type": "quantitative", "scale": {"domain": [-0.2, 0.2], "nice": false, "zero": false}, "axis": {"orient": "top", "values": [-0.2, 0, 0.2], "labels": false, "title": null, "grid": false}},
  "y": {"datum": 0, "type": "quantitative", "scale": {"domain": [-250, 0], "nice": false, "zero": false}, "axis": {"orient": "right", "values": [0, -50, -100, -150, -200, -250], "labels": false, "title": null, "grid": false}}
 }}
],
"resolve": {"axis": {"x": "independent", "y": "independent"}}
},
{
"width": 135, "height": 469,
"title": "FS004",
"layer": [
{"data": {"name": "agp"}, "mark": {"type": "line", "strokeWidth": 1.3},
 "encoding": {
  "x": {"field": "v", "type": "quantitative", "scale": {"domain": [0, 0.4], "nice": false, "zero": false}, "axis": {"orient": "bottom", "values": [0, 0.2, 0.4], "title": "agp [m\u207b\u00b9]", "grid": true}},
  "y": {"field": "z", "type": "quantitative", "scale": {"domain": [-250, 0], "nice": false, "zero": false}, "axis": {"orient": "left", "values": [0, -50, -100, -150, -200, -250], "title": null, "grid": true}},
  "color": {"field": "s", "type": "nominal", "scale": {"domain": [1, 2, 3, 4, 5, 6, 7, 8, 9], "range": ["#0072BD", "#D95319", "#EDB120", "#7E2F8E", "#77AC30", "#4DBEEE", "#A2142F", "#0072BD", "#D95319"]}, "legend": null},
  "order": {"field": "z", "sort": "descending"}
 }},
{"data": {"values": [{"k": 0}]}, "mark": {"type": "point", "opacity": 0},
 "encoding": {
  "x": {"datum": 0.2, "type": "quantitative", "scale": {"domain": [0, 0.4], "nice": false, "zero": false}, "axis": {"orient": "top", "values": [0, 0.2, 0.4], "labels": false, "title": null, "grid": false}},
  "y": {"datum": 0, "type": "quantitative", "scale": {"domain": [-250, 0], "nice": false, "zero": false}, "axis": {"orient": "right", "values": [0, -50, -100, -150, -200, -250], "labels": false, "title": null, "grid": false}}
 }}
],
"resolve": {"axis": {"x": "independent", "y": "independent"}}
},
{
"width": 135, "height": 469,
"title": "#061",
"layer": [
{"data": {"name": "bp"}, "mark": {"type": "line", "strokeWidth": 1.3},
 "encoding": {
  "x": {"field": "v", "type": "quantitative", "scale": {"domain": [-0.5, 0.5], "nice": false, "zero": false}, "axis": {"orient": "bottom", "values": [-0.5, 0, 0.5], "title": "bp [m\u207b\u00b9]", "grid": true}},
  "y": {"field": "z", "type": "quantitative", "scale": {"domain": [-250, 0], "nice": false, "zero": false}, "axis": {"orient": "left", "values": [0, -50, -100, -150, -200, -250], "title": null, "grid": true}},
  "color": {"field": "s", "type": "nominal", "scale": {"domain": [1, 2, 3, 4, 5, 6, 7, 8, 9], "range": ["#0072BD", "#D95319", "#EDB120", "#7E2F8E", "#77AC30", "#4DBEEE", "#A2142F", "#0072BD", "#D95319"]}, "legend": null},
  "order": {"field": "z", "sort": "descending"}
 }},
{"data": {"values": [{"k": 0}]}, "mark": {"type": "point", "opacity": 0},
 "encoding": {
  "x": {"datum": 0, "type": "quantitative", "scale": {"domain": [-0.5, 0.5], "nice": false, "zero": false}, "axis": {"orient": "top", "values": [-0.5, 0, 0.5], "labels": false, "title": null, "grid": false}},
  "y": {"datum": 0, "type": "quantitative", "scale": {"domain": [-250, 0], "nice": false, "zero": false}, "axis": {"orient": "right", "values": [0, -50, -100, -150, -200, -250], "labels": false, "title": null, "grid": false}}
 }}
],
"resolve": {"axis": {"x": "independent", "y": "independent"}}
},
{
"width": 100, "height": 469,
"layer": [
{"data": {"name": "sal"}, "mark": {"type": "line", "color": "#0000ff", "strokeWidth": 3},
 "encoding": {
  "x": {"field": "S", "type": "quantitative", "scale": {"domain": [30, 40], "nice": false, "zero": false}, "axis": {"orient": "top", "values": [30, 35, 40], "title": "PSU", "grid": false, "labelColor": "#0000ff", "titleColor": "#0000ff", "domainColor": "#0000ff", "tickColor": "#0000ff"}},
  "y": {"field": "z", "type": "quantitative", "scale": {"domain": [-250, 0], "nice": false, "zero": false}, "axis": {"orient": "left", "values": [0, -50, -100, -150, -200, -250], "title": null, "grid": true}},
  "order": {"field": "z", "sort": "descending"}
 }},
{"data": {"name": "temp"}, "mark": {"type": "line", "color": "#000000", "strokeWidth": 3},
 "encoding": {
  "x": {"field": "T", "type": "quantitative", "scale": {"domain": [-10, 10], "nice": false, "zero": false}, "axis": {"orient": "bottom", "values": [-10, 0, 10], "title": "T [\u2070C]", "grid": true}},
  "y": {"field": "z", "type": "quantitative", "scale": {"domain": [-250, 0], "nice": false, "zero": false}, "axis": {"orient": "right", "values": [0, -50, -100, -150, -200, -250], "labels": false, "title": null, "grid": false}},
  "order": {"field": "z", "sort": "descending"}
 }}
],
"resolve": {"scale": {"x": "independent"}, "axis": {"x": "independent", "y": "independent"}}
}
]
},
{
"width": 90, "height": 469,
"layer": [
{"data": {"name": "fdom"}, "mark": {"type": "line", "color": "#ff0000", "strokeWidth": 2.5},
 "encoding": {
  "x": {"field": "f", "type": "quantitative", "scale": {"domain": [150, 250], "nice": false, "zero": false}, "axis": {"orient": "bottom", "values": [150, 200, 250], "title": "FDOM-Ch1 [count]", "grid": true, "gridColor": "#ff0000", "gridOpacity": 0.18, "labelColor": "#ff0000", "titleColor": "#ff0000", "domainColor": "#ff0000", "tickColor": "#ff0000"}},
  "y": {"field": "z", "type": "quantitative", "scale": {"domain": [-250, 0], "nice": false, "zero": false}, "axis": {"orient": "left", "values": [0, -50, -100, -150, -200, -250], "title": null, "grid": true}},
  "order": {"field": "z", "sort": "descending"}
 }},
{"layer": [
 {"data": {"name": "cdom"}, "mark": {"type": "line", "color": "#ff00ff", "strokeWidth": 3},
  "encoding": {
   "x": {"field": "c", "type": "quantitative", "scale": {"domain": [0, 1], "nice": false, "zero": false}, "axis": {"orient": "top", "values": [0, 0.5, 1], "title": ["CDOMfl (m) \u00a0 [V]", "Chl fluo (g)"], "titleLineHeight": 23, "grid": false, "labelColor": "#00ff00", "titleColor": "#ff00ff", "domainColor": "#00ff00", "tickColor": "#00ff00"}},
   "y": {"field": "z", "type": "quantitative", "scale": {"domain": [-250, 0], "nice": false, "zero": false}, "axis": {"orient": "right", "values": [0, -50, -100, -150, -200, -250], "labels": false, "title": null, "grid": false}},
   "order": {"field": "z", "sort": "descending"}
  }},
 {"data": {"name": "chl"}, "mark": {"type": "line", "color": "#00ff00", "strokeWidth": 3},
  "encoding": {
   "x": {"field": "g", "type": "quantitative", "scale": {"domain": [0, 1], "nice": false, "zero": false}, "axis": {"orient": "top", "values": [0, 0.5, 1], "title": ["CDOMfl (m) \u00a0 [V]", "Chl fluo (g)"], "titleLineHeight": 23, "grid": false, "labelColor": "#00ff00", "titleColor": "#ff00ff", "domainColor": "#00ff00", "tickColor": "#00ff00"}},
   "y": {"field": "z", "type": "quantitative", "scale": {"domain": [-250, 0], "nice": false, "zero": false}, "axis": {"orient": "right", "values": [0, -50, -100, -150, -200, -250], "labels": false, "title": null, "grid": false}},
   "order": {"field": "z", "sort": "descending"}
  }}
]}
],
"resolve": {"scale": {"x": "independent"}, "axis": {"x": "independent", "y": "independent"}}
}
],
"spacing": -13,
"config": {
 "view": {"stroke": null},
 "font": "Liberation Sans",
 "title": {"font": "Liberation Sans", "fontSize": 20, "fontWeight": "bold", "color": "#000000", "anchor": "middle", "frame": "group", "baseline": "alphabetic", "offset": 1},
 "axis": {"labelFont": "Liberation Sans", "labelFontSize": 15, "labelColor": "#262626", "labelExpr": "replace(format(datum.value, '~g'), '\u2212', '-')", "titleFont": "Liberation Sans", "titleFontSize": 17, "titleFontWeight": "normal", "titleColor": "#262626", "domainColor": "#262626", "domainWidth": 1, "tickColor": "#262626", "tickSize": -4, "tickWidth": 1, "gridColor": "#e3e3e3", "gridWidth": 1, "labelFlush": false, "labelOverlap": false},
 "axisBottom": {"labelPadding": 16, "titlePadding": 13},
 "axisLeft": {"labelPadding": 10, "titlePadding": 7},
 "axisTop": {"labelPadding": 13, "titlePadding": 6},
 "axisRight": {"labelPadding": 10}
}
}
